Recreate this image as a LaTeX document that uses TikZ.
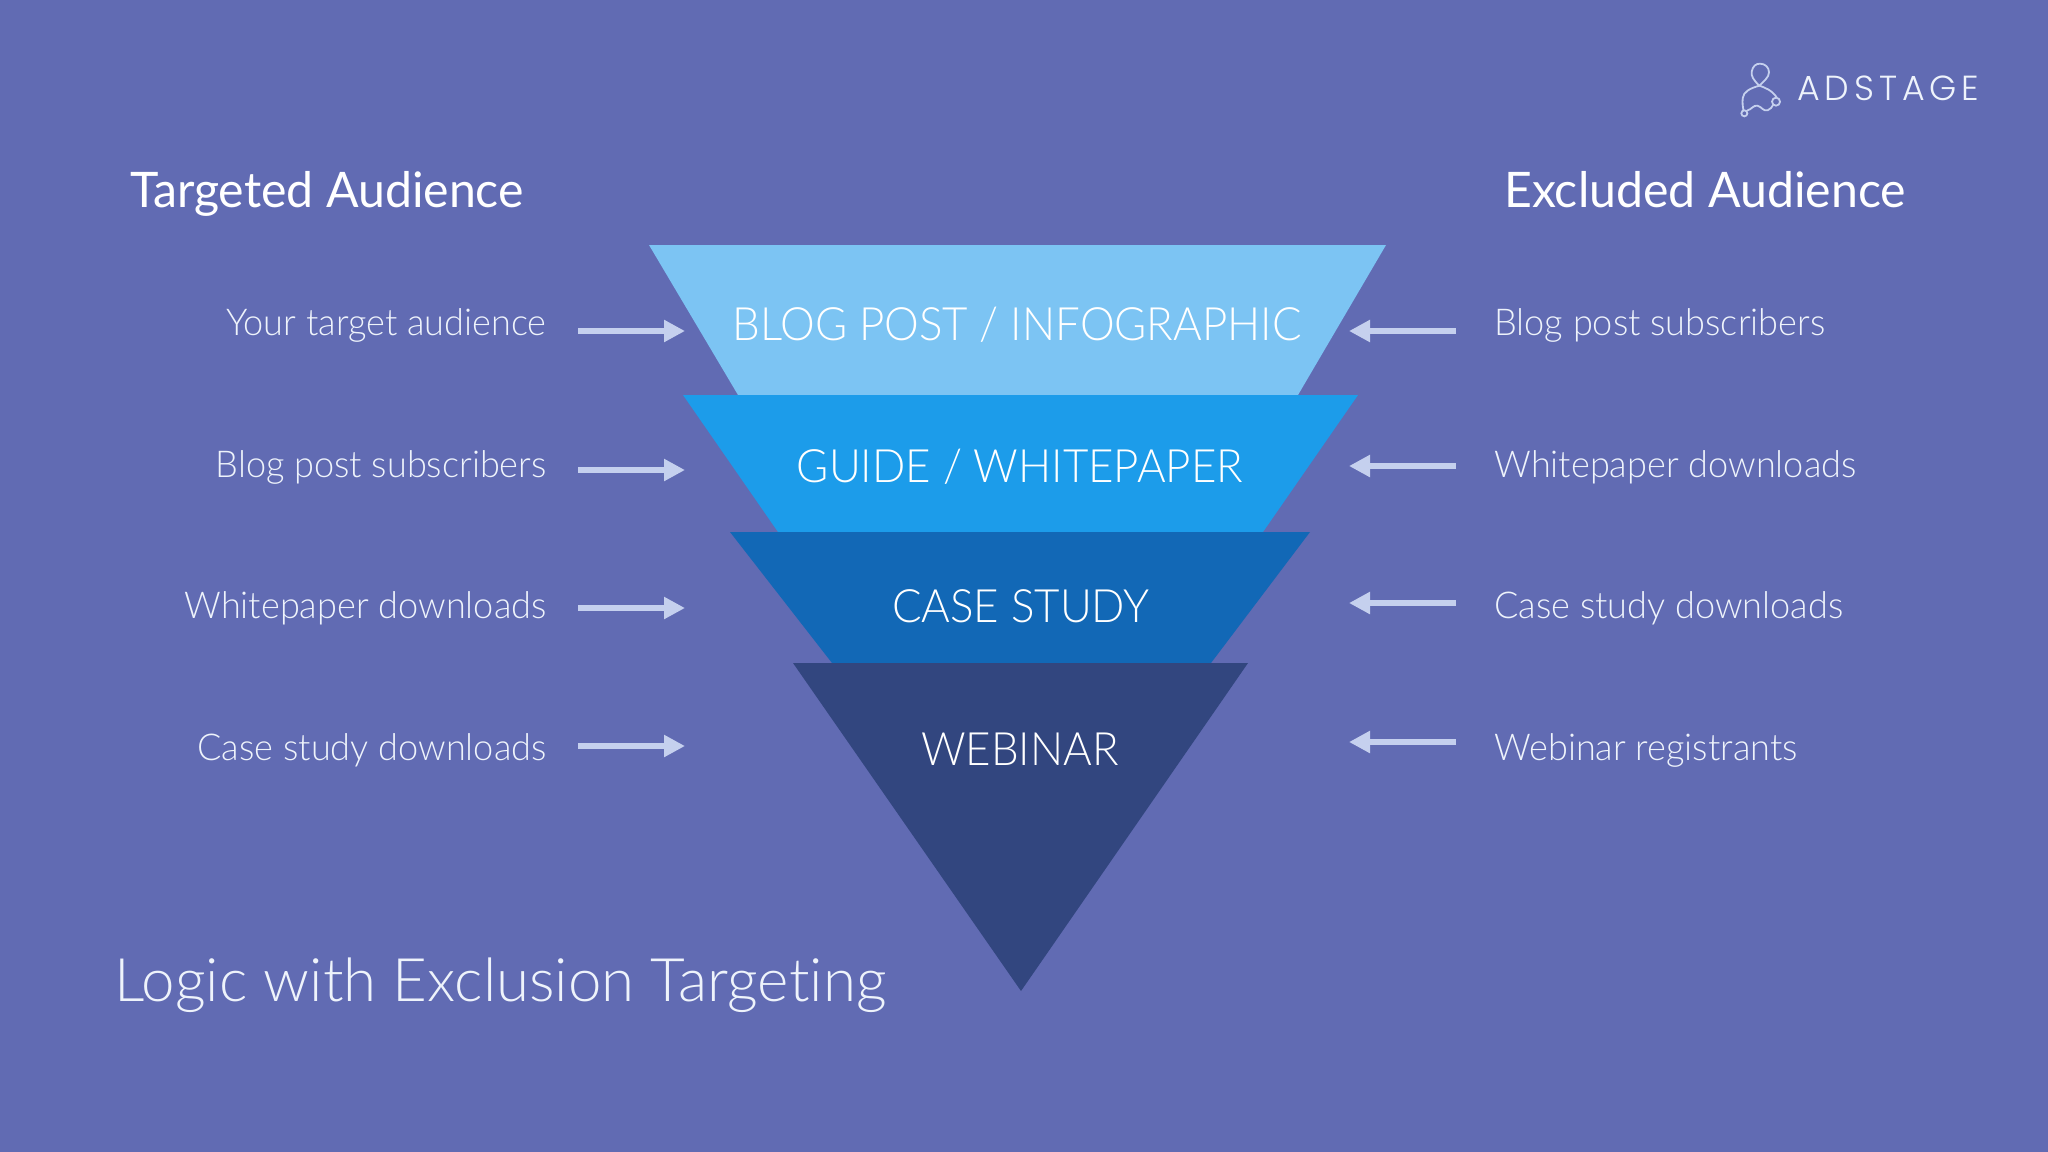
\documentclass[tikz,border=0pt]{standalone}
\usepackage{fontspec}
\usetikzlibrary{arrows.meta}
\setmainfont[Ligatures=NoCommon,FakeStretch=0.984]{Lato}
\newfontfamily\lightf[UprightFont=* Light,Ligatures=NoCommon]{Lato}
\newfontfamily\lightlbl[UprightFont=* Light,Ligatures=NoCommon,FakeStretch=0.975]{Lato}
\newfontfamily\lightfun[UprightFont=* Light,Ligatures=NoCommon,FakeStretch=0.953]{Lato}
\newfontfamily\logof[LetterSpace=14]{Poppins Light}
\definecolor{bgc}{HTML}{616BB3}
\definecolor{f1}{HTML}{7CC4F3}
\definecolor{f2}{HTML}{1C9CEA}
\definecolor{f3}{HTML}{1268B6}
\definecolor{f4}{HTML}{32467F}
\definecolor{arr}{HTML}{C5D0EE}
\definecolor{txt}{HTML}{EEF3FB}
\tikzset{
  x=0.5pt,y=-0.5pt,
  lbl/.style={text=txt,inner sep=0pt,font=\lightlbl\fontsize{18.5}{22}\selectfont},
  lblL/.style={lbl,anchor=base east},
  lblR/.style={lbl,anchor=base west},
  fun/.style={text=white,inner sep=0pt,anchor=base,font=\lightfun\fontsize{23}{28}\selectfont},
  head/.style={text=white,inner sep=0pt,anchor=base,font=\fontsize{24.5}{30}\selectfont},
  ttl/.style={text=txt,inner sep=0pt,anchor=base west,font=\lightf\fontsize{30}{36}\selectfont},
  arrowline/.style={draw=arr,line width=3pt,-{Triangle[length=10.5pt,width=10.5pt,fill=arr]}},
  logoline/.style={draw=arr,line width=0.9pt,line cap=round},
}
\begin{document}
\begin{tikzpicture}
\useasboundingbox (0,0) rectangle (2048,1151.4);
\fill[bgc] (-6,-6) rectangle (2054,1158);
% funnel
\fill[f1] (649,245) -- (1386,245) -- (1298,395) -- (738,395) -- cycle;
\fill[f2] (683,395) -- (1358,395) -- (1263,532) -- (778,532) -- cycle;
\fill[f3] (730,532) -- (1310,532) -- (1211,663) -- (832,663) -- cycle;
\fill[f4] (793,663) -- (1248,663) -- (1021,991) -- cycle;
\node[fun] (t1) at (1017,340) {BLOG POST / INFOGRAPHIC};
\node[fun] (t2) at (1020,482) {GUIDE / WHITEPAPER};
\node[fun] (t3) at (1021,622) {CASE STUDY};
\node[fun] (t4) at (1020,765) {WEBINAR};
% headers
\node[head] (hl) at (327,207) {Targeted Audience};
\node[head] (hr) at (1705,207) {Excluded Audience};
\node[ttl] (title) at (114,1001) {Logic with Exclusion Targeting};
% left labels
\node[lblL] (l1) at (547,335) {Your target audience};
\node[lblL] (l2) at (547,477) {Blog post subscribers};
\node[lblL] (l3) at (547,618) {Whitepaper downloads};
\node[lblL] (l4) at (547,760) {Case study downloads};
% right labels
\node[lblR] (r1) at (1494,335) {Blog post subscribers};
\node[lblR] (r2) at (1494,477) {Whitepaper downloads};
\node[lblR] (r3) at (1494,618) {Case study downloads};
\node[lblR] (r4) at (1494,760) {Webinar registrants};
% arrows
\foreach \n/\y in {1/331,2/470,3/608,4/746}{
  \coordinate (as\n) at (578,\y);
  \coordinate (ae\n) at (685,\y);
  \draw[arrowline] (as\n) -- (ae\n);
}
\foreach \n/\y in {1/331,2/466,3/603,4/742}{
  \coordinate (bs\n) at (1456,\y);
  \coordinate (be\n) at (1349,\y);
  \draw[arrowline] (bs\n) -- (be\n);
}
% logo
\begin{scope}[shift={(1700,40)},x=0.16667pt,y=-0.16667pt]
  \draw[logoline] (178,137) .. controls (160,120) and (153,108) .. (155,95)
     .. controls (158,78) and (168,71) .. (180,71)
     .. controls (195,71) and (207,82) .. (207,97)
     .. controls (207,112) and (190,125) .. (178,137)
     .. controls (195,143) and (215,150) .. (230,172);
  \draw[logoline] (178,137) .. controls (150,145) and (130,155) .. (128,175)
     .. controls (127,190) and (128,200) .. (130,210);
  \draw[logoline] (141,212) .. controls (155,208) and (160,195) .. (172,197)
     .. controls (185,200) and (190,215) .. (203,211)
     .. controls (212,208) and (216,200) .. (219,195);
  \draw[logoline] (228,185) circle (12);
  \draw[logoline] (133,220) circle (9);
\end{scope}
\node[inner sep=0pt,anchor=base west,text=txt,font=\logof\fontsize{17.4}{20}\selectfont] (logo) at (1797,100) {ADSTAGE};
\end{tikzpicture}
\end{document}
